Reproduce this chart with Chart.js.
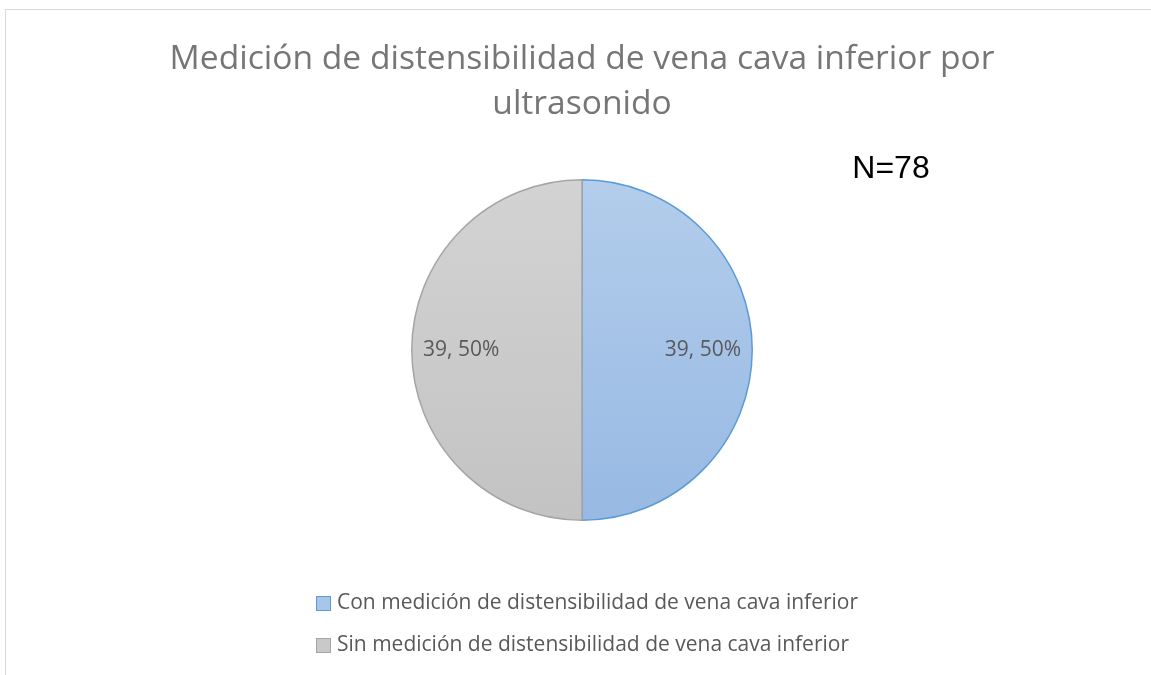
<!DOCTYPE html>
<html>
<head>
<meta charset="utf-8">
<script src="https://cdn.jsdelivr.net/npm/chart.js@4.4.0/dist/chart.umd.min.js"></script>
<style>
  html, body { margin: 0; padding: 0; background: #fff; overflow: hidden; }
  #frame {
    position: absolute; left: 5px; top: 9px;
    width: 1152px; height: 680px;
    border-top: 1px solid #d9d9d9; border-left: 1px solid #d9d9d9;
  }
</style>
</head>
<body>
<div id="frame"><canvas id="myChart"></canvas></div>
<script>
const categories = [
  'Con medición de distensibilidad de vena cava inferior',
  'Sin medición de distensibilidad de vena cava inferior'
];
const counts = [39, 39];
const percents = ['50%', '50%'];
const titleLines = ['Medición de distensibilidad de vena cava inferior por', 'ultrasonido'];
const noteText = 'N=78';

// top / bottom colours of each slice's gradient
const gradTop = ['#b3cdeb', '#d3d3d3'];
const gradBottom = ['#97b9e3', '#c3c3c3'];
const edgeColors = ['#5b9bd5', '#a5a5a5'];
const boxFill = ['#a9c5e8', '#c9c9c9'];

function sliceFill(context) {
  const chart = context.chart;
  const area = chart.chartArea;
  if (!area) return gradTop[context.dataIndex];
  const g = chart.ctx.createLinearGradient(0, area.top, 0, area.bottom);
  g.addColorStop(0, gradTop[context.dataIndex]);
  g.addColorStop(1, gradBottom[context.dataIndex]);
  return g;
}

// labels inside slices, N=78 note and the stacked legend
const extras = {
  id: 'extras',
  afterDraw(chart) {
    const ctx = chart.ctx;
    const meta = chart.getDatasetMeta(0);
    ctx.save();
    ctx.font = '21px "Open Sans"';
    ctx.fillStyle = '#595959';
    ctx.textAlign = 'center';
    ctx.textBaseline = 'middle';
    meta.data.forEach((arc, i) => {
      const p = arc.getProps(['x', 'y', 'startAngle', 'endAngle', 'outerRadius'], true);
      const mid = (p.startAngle + p.endAngle) / 2;
      const r = p.outerRadius * 0.71;
      ctx.fillText(counts[i] + ', ' + percents[i], p.x + Math.cos(mid) * r, p.y + Math.sin(mid) * r);
    });

    ctx.font = '32px "Liberation Sans"';
    ctx.fillStyle = '#000';
    ctx.fillText(noteText, 885, 159);

    // legend
    ctx.font = '21px "Open Sans"';
    ctx.textAlign = 'left';
    categories.forEach((label, i) => {
      const y = 593 + i * 42;
      ctx.fillStyle = boxFill[i];
      ctx.fillRect(310, y - 7, 15, 15);
      ctx.strokeStyle = edgeColors[i];
      ctx.lineWidth = 1;
      ctx.strokeRect(310.5, y - 6.5, 14, 14);
      ctx.fillStyle = '#595959';
      ctx.fillText(label, 331, y);
    });
    ctx.restore();
  }
};

const config = {
  type: 'pie',
  data: {
    labels: categories,
    datasets: [{
      data: counts,
      backgroundColor: sliceFill,
      borderColor: edgeColors,
      borderWidth: 1.5
    }]
  },
  options: {
    responsive: true,
    maintainAspectRatio: false,
    animation: false,
    layout: { padding: { top: 0, bottom: 169, left: 0, right: 0 } },
    plugins: {
      legend: { display: false },
      tooltip: { enabled: false },
      title: {
        display: true,
        text: titleLines,
        color: '#767676',
        font: { family: 'Open Sans', size: 33.6, weight: 'normal', lineHeight: 1.34 },
        padding: { top: 27, bottom: 52 }
      }
    }
  },
  plugins: [extras]
};

const myChart = new Chart(document.getElementById('myChart'), config);
</script>
</body>
</html>
